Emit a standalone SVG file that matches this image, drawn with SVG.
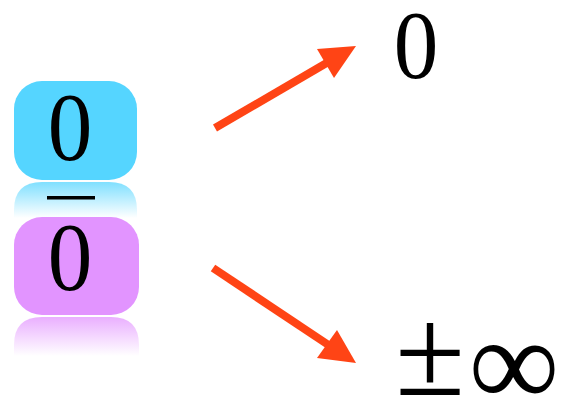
<svg xmlns="http://www.w3.org/2000/svg" width="564" height="403" viewBox="0 0 564 403">
  <style>
    .num { font-family: "Liberation Serif", "Times New Roman", serif; fill: #000; text-anchor: middle; }
    .arrow { fill: none; stroke: #FF4415; stroke-width: 8; }
    .head { fill: #FF4415; }
  </style>
  <defs>
    <linearGradient id="fadeBlue" x1="0" y1="0" x2="0" y2="1">
      <stop offset="0" stop-color="#55D5FF" stop-opacity="0.75"/>
      <stop offset="1" stop-color="#55D5FF" stop-opacity="0"/>
    </linearGradient>
    <linearGradient id="fadePink" x1="0" y1="0" x2="0" y2="1">
      <stop offset="0" stop-color="#E294FF" stop-opacity="0.75"/>
      <stop offset="1" stop-color="#E294FF" stop-opacity="0"/>
    </linearGradient>
  </defs>

  <!-- numerator tile with its reflection -->
  <g id="numerator">
    <rect x="14" y="81" width="123" height="99" rx="28" ry="28" fill="#55D5FF"/>
    <path d="M14,218 V210 Q14,182 42,182 H109 Q137,182 137,210 V218 Z" fill="url(#fadeBlue)"/>
    <text class="num" x="70" y="160" font-size="97" transform="translate(70 0) scale(0.92 1) translate(-70 0)">0</text>
  </g>

  <!-- fraction bar -->
  <g id="bar">
    <rect x="47" y="196" width="48" height="3.5" fill="#000"/>
  </g>

  <!-- denominator tile with its reflection -->
  <g id="denominator">
    <rect x="14" y="217" width="125" height="98" rx="28" ry="28" fill="#E294FF"/>
    <path d="M14,356 V345 Q14,317 42,317 H111 Q139,317 139,345 V356 Z" fill="url(#fadePink)"/>
    <text class="num" x="70" y="290" font-size="97" transform="translate(70 0) scale(0.92 1) translate(-70 0)">0</text>
  </g>

  <!-- possible results -->
  <g id="result-zero">
    <text class="num" x="416" y="78" font-size="97" transform="translate(416 0) scale(0.92 1) translate(-416 0)">0</text>
  </g>
  <g id="result-infinity">
    <text class="num" x="430" y="395" font-size="127">±</text>
    <text class="num" x="514" y="406" font-size="127">∞</text>
  </g>

  <!-- arrows -->
  <g id="connectors">
    <line class="arrow" x1="215" y1="128" x2="330" y2="61"/>
    <polygon class="head" points="356,46 334,78 317,49"/>
    <line class="arrow" x1="213" y1="268" x2="330" y2="346"/>
    <polygon class="head" points="356,363 337,330 317,358"/>
  </g>
</svg>
